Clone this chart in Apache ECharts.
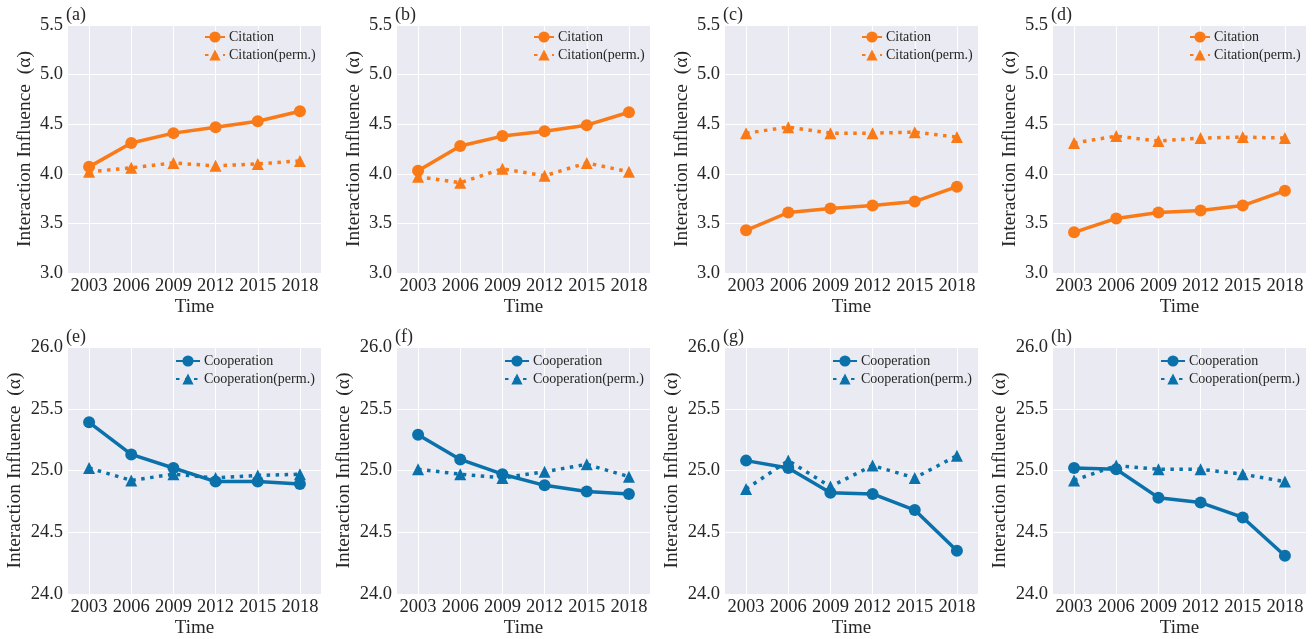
<!DOCTYPE html>
<html>
<head>
<meta charset="utf-8">
<script src="https://cdn.jsdelivr.net/npm/echarts@6/dist/echarts.min.js"></script>
<style>
  html, body { margin: 0; padding: 0; background: #ffffff; }
  #chart { width: 1313px; height: 639px; }
</style>
</head>
<body>
<div id="chart"></div>
<script>
// Survey years on the x axis
const years = ['2003', '2006', '2009', '2012', '2015', '2018'];

// Panel tags
const panelTags = ['(a)', '(b)', '(c)', '(d)', '(e)', '(f)', '(g)', '(h)'];

// Citation interaction influence (top row)
const citationA = [4.07, 4.31, 4.41, 4.47, 4.53, 4.63];
const citationPermA = [4.02, 4.06, 4.11, 4.08, 4.10, 4.13];
const citationB = [4.03, 4.28, 4.38, 4.43, 4.49, 4.62];
const citationPermB = [3.97, 3.91, 4.05, 3.98, 4.11, 4.02];
const citationC = [3.43, 3.61, 3.65, 3.68, 3.72, 3.87];
const citationPermC = [4.41, 4.47, 4.41, 4.41, 4.42, 4.37];
const citationD = [3.41, 3.55, 3.61, 3.63, 3.68, 3.83];
const citationPermD = [4.31, 4.38, 4.33, 4.36, 4.37, 4.36];

// Cooperation interaction influence (bottom row)
const cooperationE = [25.39, 25.13, 25.02, 24.91, 24.91, 24.89];
const cooperationPermE = [25.02, 24.92, 24.97, 24.94, 24.96, 24.97];
const cooperationF = [25.29, 25.09, 24.97, 24.88, 24.83, 24.81];
const cooperationPermF = [25.01, 24.97, 24.94, 24.99, 25.05, 24.95];
const cooperationG = [25.08, 25.02, 24.82, 24.81, 24.68, 24.35];
const cooperationPermG = [24.85, 25.08, 24.87, 25.04, 24.94, 25.12];
const cooperationH = [25.02, 25.01, 24.78, 24.74, 24.62, 24.31];
const cooperationPermH = [24.92, 25.04, 25.01, 25.01, 24.97, 24.91];

// Series names
const citationNames = ['Citation', 'Citation(perm.)'];
const cooperationNames = ['Cooperation', 'Cooperation(perm.)'];

// Y-axis ranges for each row
const citationRange = { min: 3.0, max: 5.5, interval: 0.5 };
const cooperationRange = { min: 24.0, max: 26.0, interval: 0.5 };

const ORANGE = '#F97A16';
const BLUE = '#0A71AA';
const FONT = '"Liberation Serif", "Times New Roman", serif';
const TEXT = '#262626';

const panels = [
  { main: citationA, perm: citationPermA, names: citationNames, range: citationRange, color: ORANGE },
  { main: citationB, perm: citationPermB, names: citationNames, range: citationRange, color: ORANGE },
  { main: citationC, perm: citationPermC, names: citationNames, range: citationRange, color: ORANGE },
  { main: citationD, perm: citationPermD, names: citationNames, range: citationRange, color: ORANGE },
  { main: cooperationE, perm: cooperationPermE, names: cooperationNames, range: cooperationRange, color: BLUE },
  { main: cooperationF, perm: cooperationPermF, names: cooperationNames, range: cooperationRange, color: BLUE },
  { main: cooperationG, perm: cooperationPermG, names: cooperationNames, range: cooperationRange, color: BLUE },
  { main: cooperationH, perm: cooperationPermH, names: cooperationNames, range: cooperationRange, color: BLUE }
];

// Layout of the 2 x 4 panel grid
const colLeft = [68, 397, 725, 1053];
const plotWidth = 253;
const rowTop = [25, 347];
const rowHeight = [248, 249];

const grids = [], xAxes = [], yAxes = [], series = [], legends = [], graphics = [];

panels.forEach((p, i) => {
  const row = Math.floor(i / 4), col = i % 4;
  const left = colLeft[col], top = rowTop[row];
  grids.push({
    left: left, top: top, width: plotWidth, height: rowHeight[row],
    show: true, backgroundColor: '#EAEAF2', borderWidth: 0
  });
  xAxes.push({
    type: 'category', gridIndex: i, data: years, boundaryGap: true,
    axisLine: { show: false },
    axisTick: { show: false, alignWithLabel: true, interval: 0 },
    axisLabel: { color: TEXT, fontFamily: FONT, fontSize: 18.5, margin: 4, interval: 0 },
    splitLine: { show: true, alignWithLabel: true, interval: 0,
      lineStyle: { color: '#ffffff', width: 1 } },
    name: 'Time', nameLocation: 'middle', nameGap: 25,
    nameTextStyle: { color: TEXT, fontFamily: FONT, fontSize: 19 }
  });
  yAxes.push({
    type: 'value', gridIndex: i,
    min: p.range.min, max: p.range.max, interval: p.range.interval,
    axisLine: { show: false }, axisTick: { show: false },
    axisLabel: { color: TEXT, fontFamily: FONT, fontSize: 18.5, margin: 5,
      formatter: v => v.toFixed(1) },
    splitLine: { show: true, lineStyle: { color: '#ffffff', width: 1 } },
    name: 'Interaction Influence  (\u03b1)', nameLocation: 'middle',
    nameGap: row === 0 ? 33 : 43,
    nameTextStyle: { color: TEXT, fontFamily: FONT, fontSize: 19.5 }
  });
  series.push({
    type: 'line', name: p.names[0], xAxisIndex: i, yAxisIndex: i, data: p.main,
    symbol: 'circle', symbolSize: 12, color: p.color,
    lineStyle: { width: 3.5, color: p.color }, itemStyle: { color: p.color },
    z: 2, animation: false
  });
  series.push({
    type: 'line', name: p.names[1], xAxisIndex: i, yAxisIndex: i, data: p.perm,
    symbol: 'triangle', symbolSize: 12, color: p.color,
    lineStyle: { width: 3.5, color: p.color, type: [3.5, 5.5] }, itemStyle: { color: p.color },
    z: 3, animation: false
  });
  legends.push({
    data: p.names, orient: 'vertical', padding: 0,
    left: left + (row === 0 ? 136 : 107), top: top + (row === 0 ? 5 : 7),
    itemWidth: row === 0 ? 20 : 24, itemHeight: 14, itemGap: 4,
    textStyle: { color: TEXT, fontFamily: FONT, fontSize: 14, padding: [0, 0, 0, -1] },
    selectedMode: false
  });
  graphics.push({
    type: 'text', left: left - 2, top: top - 19,
    style: { text: panelTags[i], fill: TEXT, font: '18px ' + FONT }
  });
});

const chart = echarts.init(document.getElementById('chart'), null, { renderer: 'canvas' });
chart.setOption({
  animation: false,
  backgroundColor: '#ffffff',
  grid: grids, xAxis: xAxes, yAxis: yAxes, series: series,
  legend: legends, graphic: graphics
});
</script>
</body>
</html>
